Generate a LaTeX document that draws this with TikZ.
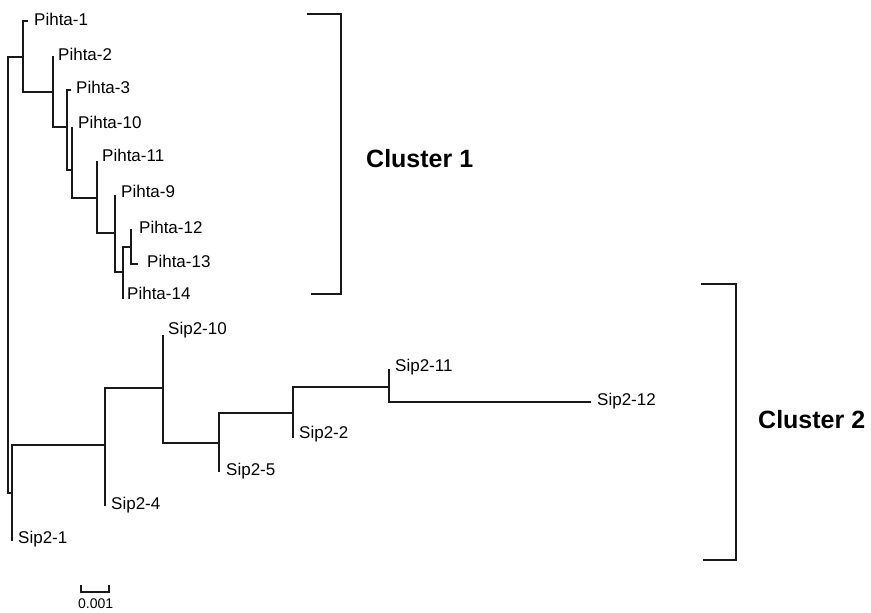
\documentclass[tikz,border=0pt]{standalone}
\usepackage{fontspec}
\setmainfont{Liberation Sans}
\begin{document}
\begin{tikzpicture}[x=1pt,y=-1pt,
  branch/.style={line width=1.8pt,line cap=rect,black!90},
  brk/.style={line width=1.6pt,black!90},
  lab/.style={inner sep=0pt,anchor=base west,font=\fontsize{17}{20}\selectfont},
  clab/.style={inner sep=0pt,anchor=base west,font=\fontsize{25}{28}\selectfont\bfseries},
  scl/.style={inner sep=0pt,anchor=base west,font=\fontsize{14}{16}\selectfont}]
\useasboundingbox (0,0) rectangle (871,613);
% internal nodes
\coordinate (R) at (8,493);
\coordinate (A) at (23,57);
\coordinate (B) at (53,92);
\coordinate (C) at (67,127);
\coordinate (D) at (72,170);
\coordinate (E) at (97,198);
\coordinate (F) at (115,233);
\coordinate (G) at (123,272);
\coordinate (H) at (131,247);
\coordinate (S) at (12,493);
\coordinate (T) at (105,445);
\coordinate (U) at (163,388);
\coordinate (V) at (219,443);
\coordinate (W) at (293,413);
\coordinate (X) at (389,387);
% tips
\coordinate (p1) at (27,21);
\coordinate (p2) at (53,57);
\coordinate (p3) at (70,90);
\coordinate (p10) at (72,128);
\coordinate (p11) at (97,162);
\coordinate (p9) at (115,196);
\coordinate (p12) at (131,230);
\coordinate (p13) at (137,264);
\coordinate (p14) at (123,298);
\coordinate (s10) at (163,336);
\coordinate (s11) at (389,370);
\coordinate (s12) at (590,402);
\coordinate (s2) at (293,437);
\coordinate (s5) at (219,471);
\coordinate (s4) at (105,505);
\coordinate (s1) at (12,540);
% branches
\draw[branch] (R) |- (A);
\draw[branch] (R) |- (S);
\draw[branch] (A) |- (p1);
\draw[branch] (A) |- (B);
\draw[branch] (B) |- (p2);
\draw[branch] (B) |- (C);
\draw[branch] (C) |- (p3);
\draw[branch] (C) |- (D);
\draw[branch] (D) |- (p10);
\draw[branch] (D) |- (E);
\draw[branch] (E) |- (p11);
\draw[branch] (E) |- (F);
\draw[branch] (F) |- (p9);
\draw[branch] (F) |- (G);
\draw[branch] (G) |- (H);
\draw[branch] (G) |- (p14);
\draw[branch] (H) |- (p12);
\draw[branch] (H) |- (p13);
\draw[branch] (S) |- (T);
\draw[branch] (S) |- (s1);
\draw[branch] (T) |- (U);
\draw[branch] (T) |- (s4);
\draw[branch] (U) |- (s10);
\draw[branch] (U) |- (V);
\draw[branch] (V) |- (W);
\draw[branch] (V) |- (s5);
\draw[branch] (W) |- (X);
\draw[branch] (W) |- (s2);
\draw[branch] (X) |- (s11);
\draw[branch] (X) |- (s12);
% labels
\node[lab] (lp1) at (34,25) {Pihta-1};
\node[lab] (lp2) at (58,60) {Pihta-2};
\node[lab] (lp3) at (76,93) {Pihta-3};
\node[lab] (lp10) at (78,128) {Pihta-10};
\node[lab] (lp11) at (102,161) {Pihta-11};
\node[lab] (lp9) at (121,197) {Pihta-9};
\node[lab] (lp12) at (139,233) {Pihta-12};
\node[lab] (lp13) at (147,267) {Pihta-13};
\node[lab] (lp14) at (127,299) {Pihta-14};
\node[lab] (ls10) at (168,334) {Sip2-10};
\node[lab] (ls11) at (395,371) {Sip2-11};
\node[lab] (ls12) at (597,405) {Sip2-12};
\node[lab] (ls2) at (299,438) {Sip2-2};
\node[lab] (ls5) at (226,475) {Sip2-5};
\node[lab] (ls4) at (111,509) {Sip2-4};
\node[lab] (ls1) at (18,543) {Sip2-1};
% cluster brackets
\draw[brk] (307,14) -- (341,14) -- (341,294) -- (311,294);
\draw[brk] (701,284) -- (736,284) -- (736,560) -- (703,560);
\node[clab] (c1) at (366,167) {Cluster 1};
\node[clab] (c2) at (758,428) {Cluster 2};
% scale bar
\draw[brk] (81,592) -- (109,592);
\draw[brk] (81,585) -- (81,593);
\draw[brk] (109,585) -- (109,593);
\node[scl] (sc) at (78,608) {0.001};
\end{tikzpicture}
\end{document}
